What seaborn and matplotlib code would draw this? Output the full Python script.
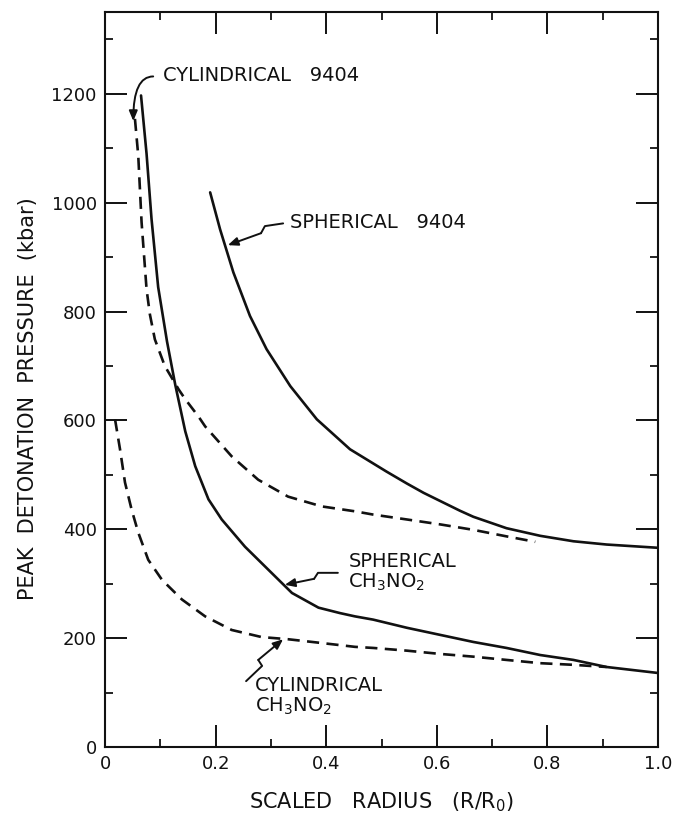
import matplotlib
matplotlib.use("Agg")
import matplotlib.pyplot as plt
import seaborn as sns
import pandas as pd
from matplotlib.ticker import MultipleLocator

# Peak detonation pressure (kbar) against scaled radius R/R0
sph_9404_x = [0.190, 0.208, 0.232, 0.262, 0.292, 0.335, 0.383, 0.443, 0.509, 0.546, 0.576,
              0.600, 0.642, 0.666, 0.726, 0.787, 0.847, 0.907, 1.000]
sph_9404_y = [1019, 951, 872, 792, 731, 663, 602, 547, 506, 484, 467,
              455, 434, 423, 402, 388, 378, 372, 366]

cyl_9404_x = [0.054, 0.057, 0.060, 0.066, 0.075, 0.081, 0.090, 0.108, 0.133, 0.145, 0.169,
              0.181, 0.229, 0.277, 0.331, 0.392, 0.452, 0.485, 0.546, 0.606, 0.666, 0.726, 0.778]
cyl_9404_y = [1154, 1120, 1086, 964, 841, 795, 749, 700, 657, 639, 607,
              589, 534, 491, 460, 442, 433, 427, 418, 409, 399, 387, 377]

sph_nm_x = [0.065, 0.075, 0.084, 0.096, 0.112, 0.127, 0.145, 0.163, 0.187, 0.211, 0.253,
            0.301, 0.338, 0.386, 0.425, 0.452, 0.485, 0.546, 0.606, 0.666, 0.726, 0.787,
            0.847, 0.907, 1.000]
sph_nm_y = [1197, 1090, 970, 845, 745, 665, 580, 516, 455, 418, 368,
            320, 283, 256, 246, 240, 234, 219, 206, 193, 182, 169,
            160, 147, 136]

cyl_nm_x = [0.018, 0.027, 0.036, 0.048, 0.060, 0.078, 0.103, 0.139, 0.181, 0.229, 0.283,
            0.331, 0.392, 0.452, 0.485, 0.546, 0.606, 0.666, 0.726, 0.787, 0.847, 0.907]
cyl_nm_y = [602, 547, 486, 436, 394, 344, 307, 271, 240, 215, 202,
            198, 191, 184, 182, 177, 171, 166, 160, 154, 151, 147]

x_ticks = [0, 0.2, 0.4, 0.6, 0.8, 1.0]
x_tick_labels = ["0", "0.2", "0.4", "0.6", "0.8", "1.0"]
y_ticks = [0, 200, 400, 600, 800, 1000, 1200]
y_tick_labels = ["0", "200", "400", "600", "800", "1000", "1200"]

sns.set_style("ticks")
plt.rcParams["font.family"] = ["DejaVu Sans"]
plt.rcParams["mathtext.default"] = "regular"

ink = "#111111"
fig = plt.figure(figsize=(6.78, 8.14), dpi=100)
ax = fig.add_axes([0.155, 0.0823, 0.8155, 0.9027])

lw = 1.9
dash = (0, (4.6, 2.8))
for xs, ys, ls in [
    (sph_9404_x, sph_9404_y, "-"),
    (cyl_9404_x, cyl_9404_y, dash),
    (sph_nm_x, sph_nm_y, "-"),
    (cyl_nm_x, cyl_nm_y, dash),
]:
    df = pd.DataFrame({"r": xs, "p": ys})
    sns.lineplot(data=df, x="r", y="p", ax=ax, sort=False, estimator=None,
                 color=ink, linewidth=lw, linestyle=ls)

ax.set_xlim(0, 1.0)
ax.set_ylim(0, 1350)
ax.set_xticks(x_ticks)
ax.set_xticklabels(x_tick_labels)
ax.set_yticks(y_ticks)
ax.set_yticklabels(y_tick_labels)
ax.xaxis.set_minor_locator(MultipleLocator(0.1))
ax.yaxis.set_minor_locator(MultipleLocator(100))
ax.tick_params(which="major", direction="in", length=16, width=1.4,
               top=True, right=True, labelsize=13, pad=6, colors=ink)
ax.tick_params(which="minor", direction="in", length=5.5, width=1.3,
               top=True, right=True, colors=ink)
for s in ax.spines.values():
    s.set_linewidth(1.5)
    s.set_color(ink)

ax.set_xlabel("SCALED   RADIUS   (R/R$_0$)", fontsize=15, color=ink, labelpad=12)
ax.set_ylabel("PEAK  DETONATION  PRESSURE  (kbar)", fontsize=15, color=ink)
ax.yaxis.set_label_coords(-0.122, 0.474)

fs = 14
ax.text(0.105, 1233, "CYLINDRICAL   9404", fontsize=fs, color=ink, va="center", ha="left")
ax.text(0.335, 964, "SPHERICAL   9404", fontsize=fs, color=ink, va="center", ha="left")
ax.text(0.44, 320, "SPHERICAL\nCH$_3$NO$_2$", fontsize=fs, color=ink, va="center", ha="left", linespacing=1.05)
ax.text(0.271, 92, "CYLINDRICAL\nCH$_3$NO$_2$", fontsize=fs, color=ink, va="center", ha="left", linespacing=1.05)

arrow = dict(arrowstyle="-|>,head_length=0.6,head_width=0.25", color=ink, lw=1.4, shrinkA=0, shrinkB=0)

# curved pointer to the cylindrical 9404 curve
ax.annotate("", xy=(0.051, 1150), xytext=(0.087, 1232),
            arrowprops=dict(arrow, connectionstyle="angle3,angleA=0,angleB=90"))

# zigzag pointers
for pts, tip in [
    ([(0.322, 962), (0.289, 957), (0.282, 944)], (0.222, 922)),
    ([(0.421, 320), (0.385, 320), (0.378, 309)], (0.325, 298)),
    ([(0.255, 121), (0.284, 149), (0.277, 160)], (0.322, 198)),
]:
    ax.plot([p[0] for p in pts], [p[1] for p in pts], color=ink, lw=1.4)
    ax.annotate("", xy=tip, xytext=pts[-1], arrowprops=arrow)

fig.savefig("out.png", dpi=100)
